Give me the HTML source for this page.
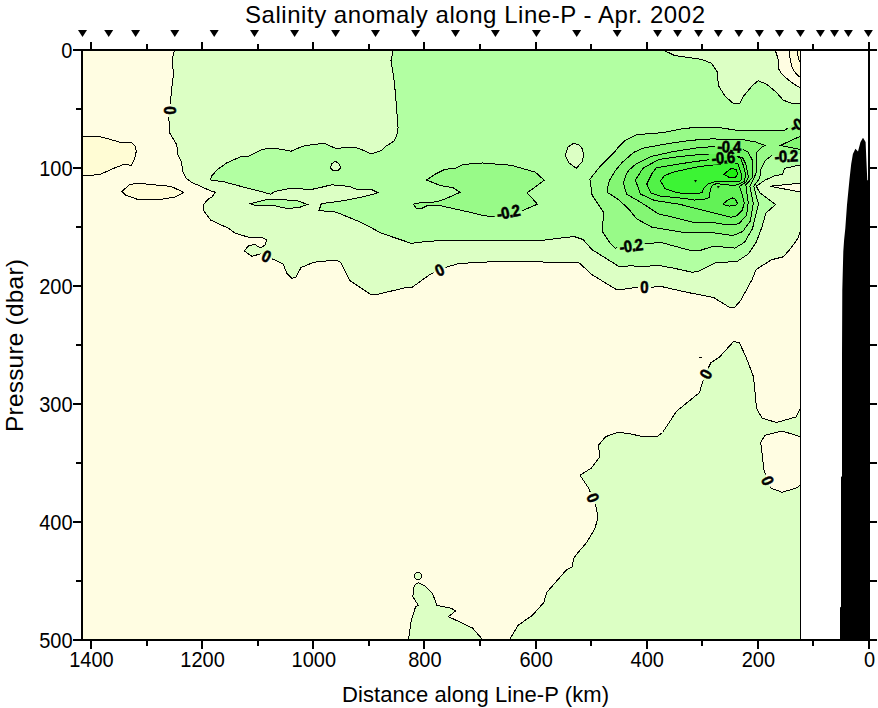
<!DOCTYPE html><html><head><meta charset="utf-8"><style>html,body{margin:0;padding:0;background:#fff;width:878px;height:708px;overflow:hidden}</style></head><body><svg width="878" height="708" viewBox="0 0 878 708" style="display:block;font-family:'Liberation Sans',sans-serif"><rect x="0" y="0" width="878" height="708" fill="#fff"/>
<rect x="82" y="50" width="719" height="589" fill="#FFFDE2"/>
<path d="M82.0 136.2 L97.4 136.2 L103.0 137.4 L111.7 139.8 L120.4 142.5 L131.5 142.5 L135.4 146.1 L136.2 151.6 L134.6 158.8 L131.5 165.5 L124.3 164.3 L115.6 167.5 L99.8 174.6 L88.7 175.4 L82.0 176.0 Z" fill="#FFFCD4" shape-rendering="crispEdges"/>
<path d="M122.1 191.6 L129.0 184.8 L137.0 183.2 L171.1 186.4 L183.6 192.3 L175.7 196.9 L162.0 199.2 L137.0 199.2 L125.6 195.1 Z" fill="#FFFCD4" shape-rendering="crispEdges"/>
<path d="M174.5 50.0 L172.3 58.3 L173.4 75.3 L171.1 93.6 L170.7 105.0 L170.0 110.6 L168.8 118.6 L170.0 133.4 L176.8 144.8 L178.0 155.0 L181.4 161.9 L183.0 172.0 L186.0 178.0 L191.6 182.4 L200.0 186.0 L210.5 190.8 L215.3 192.2 L211.9 197.0 L207.6 199.6 L203.7 204.5 L203.7 210.6 L210.5 220.0 L228.1 228.1 L235.0 233.0 L248.6 237.3 L261.3 237.3 L266.4 239.8 L265.5 244.9 L260.4 247.9 L254.5 244.3 L248.6 245.8 L244.3 250.8 L251.9 256.4 L260.4 253.8 L266.0 256.5 L272.3 258.9 L283.3 264.0 L286.7 273.3 L291.8 278.4 L296.0 277.1 L301.1 267.4 L305.0 266.1 L313.3 262.3 L336.1 260.0 L340.6 262.3 L349.7 280.5 L370.2 294.1 L375.9 294.8 L406.7 287.3 L411.2 288.0 L429.5 274.8 L438.6 270.2 L447.7 266.8 L459.1 263.4 L470.0 262.9 L494.2 261.6 L578.5 262.3 L592.1 274.8 L617.2 290.0 L637.7 287.3 L651.3 287.3 L660.0 286.2 L688.4 292.6 L713.6 297.5 L729.1 307.1 L734.9 307.1 L740.7 300.4 L752.3 279.1 L756.2 269.4 L771.7 259.7 L783.3 256.8 L791.0 248.1 L797.8 238.4 L800.5 230.7 L800.5 87.5 L799.5 87.5 L793.9 84.0 L789.0 80.5 L781.2 73.4 L778.4 68.5 L778.7 60.7 L775.2 50.0 Z" fill="#DCFFC4" shape-rendering="crispEdges"/>
<path d="M789.0 50.0 L790.4 60.7 L792.5 68.5 L795.3 72.7 L798.5 76.2 L800.5 76.6 L800.5 50.0 Z" fill="#FFFCD4" shape-rendering="crispEdges"/>
<path d="M796.7 50.0 L798.8 59.3 L800.5 62.8 L800.5 50.0 Z" fill="#FFFAC4" shape-rendering="crispEdges"/>
<path d="M770.1 186.2 L800.5 183.2 L800.5 192.1 Z" fill="#FFFDE2" shape-rendering="crispEdges"/>
<path d="M800.5 408.3 L796.3 416.8 L776.4 422.5 L762.2 418.2 L756.5 408.3 L753.6 377.0 L746.0 357.0 L739.4 342.8 L733.7 341.4 L719.5 357.0 L710.9 362.7 L705.2 374.1 L702.4 382.6 L699.5 392.6 L676.7 411.1 L662.5 432.5 L656.8 436.7 L642.6 436.7 L628.3 433.3 L617.0 432.5 L605.6 436.7 L598.4 445.3 L599.9 456.7 L591.3 468.1 L580.0 475.2 L588.5 488.0 L592.7 498.0 L595.6 505.1 L597.9 517.1 L595.0 528.5 L586.5 542.7 L577.9 552.7 L573.7 558.4 L572.2 566.9 L566.5 569.8 L546.6 592.5 L543.8 602.5 L532.4 615.3 L518.1 625.3 L509.6 639.5 L800.5 639.5 Z" fill="#DCFFC4" shape-rendering="crispEdges"/>
<path d="M800.5 436.7 L782.1 431.0 L765.0 435.3 L760.7 442.4 L764.0 470.0 L767.3 480.9 L770.7 488.0 L782.1 492.3 L796.3 488.0 L800.5 485.1 Z" fill="#FFFDE2" shape-rendering="crispEdges"/>
<path d="M408.5 639.5 L411.4 619.6 L415.6 606.8 L418.5 605.4 L412.8 596.8 L414.2 585.4 L418.5 582.6 L424.2 585.4 L432.7 594.0 L437.0 605.4 L451.2 608.2 L455.5 611.0 L448.4 616.7 L464.0 623.9 L472.6 628.1 L482.5 639.5 Z" fill="#DCFFC4" shape-rendering="crispEdges"/>
<path d="M421.8 576.0 L421.5 577.5 L420.7 578.7 L419.5 579.5 L418.0 579.8 L416.5 579.5 L415.3 578.7 L414.5 577.5 L414.2 576.0 L414.5 574.5 L415.3 573.3 L416.5 572.5 L418.0 572.2 L419.5 572.5 L420.7 573.3 L421.5 574.5 Z" fill="#DCFFC4" shape-rendering="crispEdges"/>
<path d="M393.3 50.0 L391.0 60.5 L394.4 82.2 L396.7 109.5 L398.1 127.7 L396.7 135.7 L393.9 141.2 L386.1 146.1 L381.9 150.4 L371.3 153.9 L360.0 148.9 L355.7 147.5 L335.2 148.2 L323.8 143.2 L310.0 145.0 L302.1 146.4 L291.1 151.2 L280.2 149.1 L267.9 148.0 L259.7 150.5 L248.8 156.0 L240.6 156.7 L226.9 162.8 L217.3 169.6 L211.9 175.8 L210.2 179.9 L224.2 181.9 L244.7 187.4 L261.1 191.5 L270.6 194.2 L274.7 191.5 L291.1 188.1 L310.0 189.5 L315.6 188.7 L331.5 184.8 L349.7 186.4 L356.6 189.4 L372.5 190.0 L378.2 192.8 L365.7 196.2 L349.7 199.6 L338.3 201.4 L321.3 203.7 L319.0 210.5 L336.1 212.1 L361.1 222.4 L381.6 233.3 L411.2 243.3 L429.5 241.1 L470.0 240.2 L539.7 240.6 L573.9 236.5 L583.0 239.5 L592.1 249.7 L619.5 266.8 L630.8 265.7 L640.0 266.5 L659.4 265.5 L674.8 268.4 L692.3 272.3 L698.1 271.3 L715.5 262.6 L736.8 261.6 L748.4 253.9 L756.2 242.3 L762.0 226.8 L765.8 213.2 L775.5 204.5 L759.7 192.6 L756.3 186.2 L764.7 180.3 L774.5 175.8 L782.5 174.3 L784.4 168.4 L800.5 164.9 L800.5 104.0 L791.0 103.1 L783.3 100.2 L775.5 91.5 L770.6 87.5 L765.8 83.7 L758.1 80.8 L752.3 85.7 L742.6 97.3 L739.7 104.0 L732.9 103.1 L725.2 96.3 L718.4 85.7 L717.4 72.1 L711.6 63.4 L702.0 59.5 L674.8 55.6 L663.2 50.0 Z" fill="#B2FFA2" shape-rendering="crispEdges"/>
<path d="M250.1 203.8 L266.5 199.7 L278.8 199.7 L296.6 200.4 L307.5 204.5 L298.0 207.9 L285.7 208.2 L272.0 205.2 L254.2 205.2 Z" fill="#B2FFA2" shape-rendering="crispEdges"/>
<path d="M335.2 161.2 L338.5 163.5 L340.9 167.6 L338.0 170.4 L333.0 170.6 L330.2 167.6 L332.0 163.5 Z" fill="#DCFFC4" shape-rendering="crispEdges"/>
<path d="M573.9 143.2 L579.0 145.0 L582.5 149.0 L583.7 155.0 L582.0 162.0 L576.2 168.3 L569.0 163.0 L565.2 155.0 L568.0 147.0 Z" fill="#DCFFC4" shape-rendering="crispEdges"/>
<path d="M480.0 163.1 L463.1 164.5 L456.0 168.0 L444.7 169.4 L434.8 174.4 L426.4 180.0 L440.5 185.6 L453.2 187.8 L460.2 192.3 L444.7 199.1 L436.2 201.9 L420.7 202.6 L413.6 204.0 L416.5 208.9 L420.7 208.9 L427.8 205.4 L439.1 205.4 L461.7 210.4 L480.0 214.6 L482.8 215.6 L494.2 216.7 L507.0 216.0 L522.6 210.5 L537.4 204.2 L527.2 192.8 L544.3 180.3 L535.2 172.1 L511.3 165.3 L482.8 163.0 Z" fill="#98FA88" shape-rendering="crispEdges"/>
<path d="M589.9 179.2 L601.2 165.1 L614.6 152.1 L617.4 148.1 L625.2 140.4 L636.5 134.7 L663.3 132.6 L684.5 128.4 L700.0 127.2 L719.6 127.6 L738.0 130.5 L784.6 130.5 L787.4 128.4 L792.0 125.0 L800.5 121.0 L800.5 153.5 L785.0 155.5 L771.2 156.0 L765.6 160.2 L763.5 164.4 L760.7 169.9 L759.7 178.3 L756.0 183.0 L753.8 186.2 L756.0 195.0 L758.5 204.0 L756.2 213.2 L752.5 228.7 L744.5 242.3 L734.9 248.1 L713.6 246.1 L701.5 250.0 L688.8 250.0 L660.8 242.4 L645.6 243.7 L630.0 246.0 L615.1 248.1 L610.0 243.1 L602.4 231.5 L603.5 212.1 L592.1 195.1 Z" fill="#98FA88" shape-rendering="crispEdges"/>
<path d="M607.5 192.6 L608.2 183.4 L610.0 179.5 L615.3 170.7 L622.4 162.2 L633.6 152.4 L643.5 148.1 L670.4 143.2 L690.0 140.4 L711.2 138.9 L742.2 139.6 L755.4 141.9 L764.9 145.4 L762.1 146.8 L757.1 151.7 L756.4 154.5 L756.3 172.4 L754.0 178.0 L749.8 186.2 L753.3 203.5 L750.4 221.0 L742.6 231.6 L732.9 235.5 L710.0 232.3 L686.2 232.9 L651.9 227.2 L636.7 218.9 L629.0 209.4 L618.9 199.9 L610.0 194.1 Z" fill="#84F674" shape-rendering="crispEdges"/>
<path d="M780.4 145.4 L800.5 136.2 L800.5 149.6 Z" fill="#84F674" shape-rendering="crispEdges"/>
<path d="M623.3 182.7 L626.6 173.5 L629.0 170.0 L636.5 163.6 L650.6 156.6 L673.2 151.6 L700.0 147.4 L718.0 146.5 L740.0 148.0 L748.0 152.0 L752.3 160.0 L752.3 177.8 L745.9 184.7 L747.0 194.0 L748.3 202.5 L746.5 215.2 L738.7 223.9 L727.1 224.8 L710.0 222.1 L692.6 222.1 L679.9 218.9 L658.3 213.8 L641.8 203.0 L626.5 194.1 Z" fill="#70F464" shape-rendering="crispEdges"/>
<path d="M635.4 180.2 L641.8 170.0 L643.5 167.9 L659.0 159.4 L680.0 156.5 L700.0 154.5 L720.0 154.0 L737.6 156.3 L742.7 158.0 L745.7 163.9 L747.5 172.0 L748.5 177.0 L746.0 182.0 L739.4 186.3 L742.2 194.8 L744.3 203.2 L742.2 210.3 L736.6 215.9 L730.9 217.3 L719.6 214.5 L700.6 209.6 L690.0 207.1 L679.9 204.3 L654.5 200.5 L640.5 194.1 Z" fill="#62F256" shape-rendering="crispEdges"/>
<path d="M646.8 184.0 L651.9 173.8 L656.2 167.9 L676.0 164.4 L695.0 161.6 L711.0 159.5 L733.7 155.2 L740.7 157.8 L743.3 165.4 L745.8 175.0 L744.3 181.4 L740.1 183.5 L735.9 185.2 L725.3 184.9 L716.8 183.5 L712.6 185.2 L710.5 189.1 L709.1 197.6 L705.5 199.0 L694.2 200.1 L686.2 198.6 L659.6 196.0 L650.7 192.9 Z" fill="#52F248" shape-rendering="crispEdges"/>
<path d="M723.2 203.9 L727.4 200.4 L732.3 197.9 L735.2 199.0 L737.6 203.6 L735.9 205.3 L729.5 206.1 L725.3 205.0 Z" fill="#52F248" shape-rendering="crispEdges"/>
<path d="M660.5 181.0 L664.0 176.0 L672.0 172.5 L687.0 169.0 L700.0 166.5 L720.4 164.1 L733.1 162.2 L738.2 164.1 L740.1 170.5 L741.9 175.0 L741.5 179.2 L739.4 181.4 L724.6 181.7 L715.4 181.4 L708.3 183.8 L704.1 187.7 L702.0 192.6 L697.8 193.7 L687.0 194.0 L676.0 192.5 L665.0 188.5 Z" fill="#3CF434" shape-rendering="crispEdges"/>
<path d="M723.7 174.3 L731.0 168.6 L736.1 169.2 L737.8 174.3 L735.5 177.1 L728.8 177.1 Z" fill="#1EF012" shape-rendering="crispEdges"/>
<path d="M694 180 L697 180 L695.5 182.5 Z" fill="#000"/>
<path d="M717 186 L720 186 L718 188.5 Z" fill="#000"/>
<rect x="699" y="357" width="3" height="1" fill="#000"/>
<defs><mask id="lm" maskUnits="userSpaceOnUse" x="0" y="0" width="878" height="708"><rect x="0" y="0" width="878" height="708" fill="#fff"/><rect x="-6.5" y="-6" width="13" height="12" fill="#000" transform="translate(169.5 110.5) rotate(90)"/><rect x="-6.5" y="-6" width="13" height="12" fill="#000" transform="translate(266.3 256.4) rotate(25)"/><rect x="-6.5" y="-6" width="13" height="12" fill="#000" transform="translate(439.6 270.2) rotate(-25)"/><rect x="-6.5" y="-6" width="13" height="12" fill="#000" transform="translate(644.5 287.5) rotate(0)"/><rect x="-6.5" y="-6" width="13" height="12" fill="#000" transform="translate(706 374.3) rotate(-62)"/><rect x="-6.5" y="-6" width="13" height="12" fill="#000" transform="translate(592.7 498) rotate(67)"/><rect x="-6.5" y="-6" width="13" height="12" fill="#000" transform="translate(767.3 480.9) rotate(68)"/><rect x="-14.0" y="-6" width="28" height="12" fill="#000" transform="translate(508.2 212.4) rotate(-11)"/><rect x="-14.0" y="-6" width="28" height="12" fill="#000" transform="translate(631 246) rotate(-8)"/><rect x="-14.0" y="-6" width="28" height="12" fill="#000" transform="translate(786 156.5) rotate(-2)"/><rect x="-14.0" y="-6" width="28" height="12" fill="#000" transform="translate(729 146.9) rotate(2)"/><rect x="-14.0" y="-6" width="28" height="12" fill="#000" transform="translate(723 158) rotate(-4)"/><rect x="-14.0" y="-6" width="28" height="12" fill="#000" transform="translate(801 123) rotate(-28)"/></mask></defs>
<g mask="url(#lm)" fill="none" stroke="#000" stroke-width="1" shape-rendering="crispEdges"><path d="M82.0 136.2 L97.4 136.2 L103.0 137.4 L111.7 139.8 L120.4 142.5 L131.5 142.5 L135.4 146.1 L136.2 151.6 L134.6 158.8 L131.5 165.5 L124.3 164.3 L115.6 167.5 L99.8 174.6 L88.7 175.4 L82.0 176.0 Z"/><path d="M122.1 191.6 L129.0 184.8 L137.0 183.2 L171.1 186.4 L183.6 192.3 L175.7 196.9 L162.0 199.2 L137.0 199.2 L125.6 195.1 Z"/><path d="M174.5 50.0 L172.3 58.3 L173.4 75.3 L171.1 93.6 L170.7 105.0 L170.0 110.6 L168.8 118.6 L170.0 133.4 L176.8 144.8 L178.0 155.0 L181.4 161.9 L183.0 172.0 L186.0 178.0 L191.6 182.4 L200.0 186.0 L210.5 190.8 L215.3 192.2 L211.9 197.0 L207.6 199.6 L203.7 204.5 L203.7 210.6 L210.5 220.0 L228.1 228.1 L235.0 233.0 L248.6 237.3 L261.3 237.3 L266.4 239.8 L265.5 244.9 L260.4 247.9 L254.5 244.3 L248.6 245.8 L244.3 250.8 L251.9 256.4 L260.4 253.8 L266.0 256.5 L272.3 258.9 L283.3 264.0 L286.7 273.3 L291.8 278.4 L296.0 277.1 L301.1 267.4 L305.0 266.1 L313.3 262.3 L336.1 260.0 L340.6 262.3 L349.7 280.5 L370.2 294.1 L375.9 294.8 L406.7 287.3 L411.2 288.0 L429.5 274.8 L438.6 270.2 L447.7 266.8 L459.1 263.4 L470.0 262.9 L494.2 261.6 L578.5 262.3 L592.1 274.8 L617.2 290.0 L637.7 287.3 L651.3 287.3 L660.0 286.2 L688.4 292.6 L713.6 297.5 L729.1 307.1 L734.9 307.1 L740.7 300.4 L752.3 279.1 L756.2 269.4 L771.7 259.7 L783.3 256.8 L791.0 248.1 L797.8 238.4 L800.5 230.7 L800.5 87.5 L799.5 87.5 L793.9 84.0 L789.0 80.5 L781.2 73.4 L778.4 68.5 L778.7 60.7 L775.2 50.0 Z"/><path d="M789.0 50.0 L790.4 60.7 L792.5 68.5 L795.3 72.7 L798.5 76.2 L800.5 76.6 L800.5 50.0 Z"/><path d="M796.7 50.0 L798.8 59.3 L800.5 62.8 L800.5 50.0 Z"/><path d="M770.1 186.2 L800.5 183.2 L800.5 192.1 Z"/><path d="M800.5 408.3 L796.3 416.8 L776.4 422.5 L762.2 418.2 L756.5 408.3 L753.6 377.0 L746.0 357.0 L739.4 342.8 L733.7 341.4 L719.5 357.0 L710.9 362.7 L705.2 374.1 L702.4 382.6 L699.5 392.6 L676.7 411.1 L662.5 432.5 L656.8 436.7 L642.6 436.7 L628.3 433.3 L617.0 432.5 L605.6 436.7 L598.4 445.3 L599.9 456.7 L591.3 468.1 L580.0 475.2 L588.5 488.0 L592.7 498.0 L595.6 505.1 L597.9 517.1 L595.0 528.5 L586.5 542.7 L577.9 552.7 L573.7 558.4 L572.2 566.9 L566.5 569.8 L546.6 592.5 L543.8 602.5 L532.4 615.3 L518.1 625.3 L509.6 639.5 L800.5 639.5 Z"/><path d="M800.5 436.7 L782.1 431.0 L765.0 435.3 L760.7 442.4 L764.0 470.0 L767.3 480.9 L770.7 488.0 L782.1 492.3 L796.3 488.0 L800.5 485.1 Z"/><path d="M408.5 639.5 L411.4 619.6 L415.6 606.8 L418.5 605.4 L412.8 596.8 L414.2 585.4 L418.5 582.6 L424.2 585.4 L432.7 594.0 L437.0 605.4 L451.2 608.2 L455.5 611.0 L448.4 616.7 L464.0 623.9 L472.6 628.1 L482.5 639.5 Z"/><path d="M421.8 576.0 L421.5 577.5 L420.7 578.7 L419.5 579.5 L418.0 579.8 L416.5 579.5 L415.3 578.7 L414.5 577.5 L414.2 576.0 L414.5 574.5 L415.3 573.3 L416.5 572.5 L418.0 572.2 L419.5 572.5 L420.7 573.3 L421.5 574.5 Z"/><path d="M393.3 50.0 L391.0 60.5 L394.4 82.2 L396.7 109.5 L398.1 127.7 L396.7 135.7 L393.9 141.2 L386.1 146.1 L381.9 150.4 L371.3 153.9 L360.0 148.9 L355.7 147.5 L335.2 148.2 L323.8 143.2 L310.0 145.0 L302.1 146.4 L291.1 151.2 L280.2 149.1 L267.9 148.0 L259.7 150.5 L248.8 156.0 L240.6 156.7 L226.9 162.8 L217.3 169.6 L211.9 175.8 L210.2 179.9 L224.2 181.9 L244.7 187.4 L261.1 191.5 L270.6 194.2 L274.7 191.5 L291.1 188.1 L310.0 189.5 L315.6 188.7 L331.5 184.8 L349.7 186.4 L356.6 189.4 L372.5 190.0 L378.2 192.8 L365.7 196.2 L349.7 199.6 L338.3 201.4 L321.3 203.7 L319.0 210.5 L336.1 212.1 L361.1 222.4 L381.6 233.3 L411.2 243.3 L429.5 241.1 L470.0 240.2 L539.7 240.6 L573.9 236.5 L583.0 239.5 L592.1 249.7 L619.5 266.8 L630.8 265.7 L640.0 266.5 L659.4 265.5 L674.8 268.4 L692.3 272.3 L698.1 271.3 L715.5 262.6 L736.8 261.6 L748.4 253.9 L756.2 242.3 L762.0 226.8 L765.8 213.2 L775.5 204.5 L759.7 192.6 L756.3 186.2 L764.7 180.3 L774.5 175.8 L782.5 174.3 L784.4 168.4 L800.5 164.9 L800.5 104.0 L791.0 103.1 L783.3 100.2 L775.5 91.5 L770.6 87.5 L765.8 83.7 L758.1 80.8 L752.3 85.7 L742.6 97.3 L739.7 104.0 L732.9 103.1 L725.2 96.3 L718.4 85.7 L717.4 72.1 L711.6 63.4 L702.0 59.5 L674.8 55.6 L663.2 50.0 Z"/><path d="M250.1 203.8 L266.5 199.7 L278.8 199.7 L296.6 200.4 L307.5 204.5 L298.0 207.9 L285.7 208.2 L272.0 205.2 L254.2 205.2 Z"/><path d="M335.2 161.2 L338.5 163.5 L340.9 167.6 L338.0 170.4 L333.0 170.6 L330.2 167.6 L332.0 163.5 Z"/><path d="M573.9 143.2 L579.0 145.0 L582.5 149.0 L583.7 155.0 L582.0 162.0 L576.2 168.3 L569.0 163.0 L565.2 155.0 L568.0 147.0 Z"/><path d="M480.0 163.1 L463.1 164.5 L456.0 168.0 L444.7 169.4 L434.8 174.4 L426.4 180.0 L440.5 185.6 L453.2 187.8 L460.2 192.3 L444.7 199.1 L436.2 201.9 L420.7 202.6 L413.6 204.0 L416.5 208.9 L420.7 208.9 L427.8 205.4 L439.1 205.4 L461.7 210.4 L480.0 214.6 L482.8 215.6 L494.2 216.7 L507.0 216.0 L522.6 210.5 L537.4 204.2 L527.2 192.8 L544.3 180.3 L535.2 172.1 L511.3 165.3 L482.8 163.0 Z"/><path d="M589.9 179.2 L601.2 165.1 L614.6 152.1 L617.4 148.1 L625.2 140.4 L636.5 134.7 L663.3 132.6 L684.5 128.4 L700.0 127.2 L719.6 127.6 L738.0 130.5 L784.6 130.5 L787.4 128.4 L792.0 125.0 L800.5 121.0 L800.5 153.5 L785.0 155.5 L771.2 156.0 L765.6 160.2 L763.5 164.4 L760.7 169.9 L759.7 178.3 L756.0 183.0 L753.8 186.2 L756.0 195.0 L758.5 204.0 L756.2 213.2 L752.5 228.7 L744.5 242.3 L734.9 248.1 L713.6 246.1 L701.5 250.0 L688.8 250.0 L660.8 242.4 L645.6 243.7 L630.0 246.0 L615.1 248.1 L610.0 243.1 L602.4 231.5 L603.5 212.1 L592.1 195.1 Z"/><path d="M607.5 192.6 L608.2 183.4 L610.0 179.5 L615.3 170.7 L622.4 162.2 L633.6 152.4 L643.5 148.1 L670.4 143.2 L690.0 140.4 L711.2 138.9 L742.2 139.6 L755.4 141.9 L764.9 145.4 L762.1 146.8 L757.1 151.7 L756.4 154.5 L756.3 172.4 L754.0 178.0 L749.8 186.2 L753.3 203.5 L750.4 221.0 L742.6 231.6 L732.9 235.5 L710.0 232.3 L686.2 232.9 L651.9 227.2 L636.7 218.9 L629.0 209.4 L618.9 199.9 L610.0 194.1 Z"/><path d="M780.4 145.4 L800.5 136.2 L800.5 149.6 Z"/><path d="M623.3 182.7 L626.6 173.5 L629.0 170.0 L636.5 163.6 L650.6 156.6 L673.2 151.6 L700.0 147.4 L718.0 146.5 L740.0 148.0 L748.0 152.0 L752.3 160.0 L752.3 177.8 L745.9 184.7 L747.0 194.0 L748.3 202.5 L746.5 215.2 L738.7 223.9 L727.1 224.8 L710.0 222.1 L692.6 222.1 L679.9 218.9 L658.3 213.8 L641.8 203.0 L626.5 194.1 Z"/><path d="M635.4 180.2 L641.8 170.0 L643.5 167.9 L659.0 159.4 L680.0 156.5 L700.0 154.5 L720.0 154.0 L737.6 156.3 L742.7 158.0 L745.7 163.9 L747.5 172.0 L748.5 177.0 L746.0 182.0 L739.4 186.3 L742.2 194.8 L744.3 203.2 L742.2 210.3 L736.6 215.9 L730.9 217.3 L719.6 214.5 L700.6 209.6 L690.0 207.1 L679.9 204.3 L654.5 200.5 L640.5 194.1 Z"/><path d="M646.8 184.0 L651.9 173.8 L656.2 167.9 L676.0 164.4 L695.0 161.6 L711.0 159.5 L733.7 155.2 L740.7 157.8 L743.3 165.4 L745.8 175.0 L744.3 181.4 L740.1 183.5 L735.9 185.2 L725.3 184.9 L716.8 183.5 L712.6 185.2 L710.5 189.1 L709.1 197.6 L705.5 199.0 L694.2 200.1 L686.2 198.6 L659.6 196.0 L650.7 192.9 Z"/><path d="M723.2 203.9 L727.4 200.4 L732.3 197.9 L735.2 199.0 L737.6 203.6 L735.9 205.3 L729.5 206.1 L725.3 205.0 Z"/><path d="M660.5 181.0 L664.0 176.0 L672.0 172.5 L687.0 169.0 L700.0 166.5 L720.4 164.1 L733.1 162.2 L738.2 164.1 L740.1 170.5 L741.9 175.0 L741.5 179.2 L739.4 181.4 L724.6 181.7 L715.4 181.4 L708.3 183.8 L704.1 187.7 L702.0 192.6 L697.8 193.7 L687.0 194.0 L676.0 192.5 L665.0 188.5 Z"/><path d="M723.7 174.3 L731.0 168.6 L736.1 169.2 L737.8 174.3 L735.5 177.1 L728.8 177.1 Z"/></g>
<text transform="translate(169.5 110.5) rotate(90) scale(1 1.1)" text-anchor="middle" y="5" font-size="15" font-weight="bold" stroke="#000" stroke-width="0.5">0</text>
<text transform="translate(266.3 256.4) rotate(25) scale(1 1.1)" text-anchor="middle" y="5" font-size="15" font-weight="bold" stroke="#000" stroke-width="0.5">0</text>
<text transform="translate(439.6 270.2) rotate(-25) scale(1 1.1)" text-anchor="middle" y="5" font-size="15" font-weight="bold" stroke="#000" stroke-width="0.5">0</text>
<text transform="translate(644.5 287.5) rotate(0) scale(1 1.1)" text-anchor="middle" y="5" font-size="15" font-weight="bold" stroke="#000" stroke-width="0.5">0</text>
<text transform="translate(706 374.3) rotate(-62) scale(1 1.1)" text-anchor="middle" y="5" font-size="15" font-weight="bold" stroke="#000" stroke-width="0.5">0</text>
<text transform="translate(592.7 498) rotate(67) scale(1 1.1)" text-anchor="middle" y="5" font-size="15" font-weight="bold" stroke="#000" stroke-width="0.5">0</text>
<text transform="translate(767.3 480.9) rotate(68) scale(1 1.1)" text-anchor="middle" y="5" font-size="15" font-weight="bold" stroke="#000" stroke-width="0.5">0</text>
<text transform="translate(508.2 212.4) rotate(-11) scale(1 1.1)" text-anchor="middle" y="5" font-size="15" font-weight="bold" stroke="#000" stroke-width="0.5" letter-spacing="-0.7">-0.2</text>
<text transform="translate(631 246) rotate(-8) scale(1 1.1)" text-anchor="middle" y="5" font-size="15" font-weight="bold" stroke="#000" stroke-width="0.5" letter-spacing="-0.7">-0.2</text>
<text transform="translate(786 156.5) rotate(-2) scale(1 1.1)" text-anchor="middle" y="5" font-size="15" font-weight="bold" stroke="#000" stroke-width="0.5" letter-spacing="-0.7">-0.2</text>
<text transform="translate(729 146.9) rotate(2) scale(1 1.1)" text-anchor="middle" y="5" font-size="15" font-weight="bold" stroke="#000" stroke-width="0.5" letter-spacing="-0.7">-0.4</text>
<text transform="translate(723 158) rotate(-4) scale(1 1.1)" text-anchor="middle" y="5" font-size="15" font-weight="bold" stroke="#000" stroke-width="0.5" letter-spacing="-0.7">-0.6</text>
<text transform="translate(801 123) rotate(-28) scale(1 1.1)" text-anchor="middle" y="5" font-size="15" font-weight="bold" stroke="#000" stroke-width="0.5" letter-spacing="-0.7">-0.2</text>
<rect x="801" y="50" width="67" height="589" fill="#fff"/>
<rect x="800" y="50" width="1" height="589" fill="#000"/>
<path d="M863.0 137.8 L860.5 142.0 L858.0 151.4 L855.4 148.8 L852.9 153.9 L851.2 164.0 L849.5 179.3 L847.0 204.7 L845.3 228.5 L844.1 240.0 L843.3 251.7 L842.3 290.5 L842.0 354.0 L842.0 476.0 L841.0 477.2 L841.0 606.8 L840.0 607.5 L840.0 639.0 L869.0 639.0 L869.0 180.2 L867.3 180.2 L866.4 160.7 L865.6 142.0 Z" fill="#000"/>
<rect x="73" y="49" width="804" height="2" fill="#000"/>
<rect x="73" y="639" width="804" height="2" fill="#000"/>
<rect x="81" y="49" width="2" height="592" fill="#000"/>
<rect x="868" y="42" width="2" height="607" fill="#000"/>
<rect x="90" y="42" width="2" height="7" fill="#000"/>
<rect x="90" y="641" width="2" height="8" fill="#000"/>
<rect x="146" y="44" width="2" height="5" fill="#000"/>
<rect x="146" y="641" width="2" height="5" fill="#000"/>
<rect x="201" y="42" width="2" height="7" fill="#000"/>
<rect x="201" y="641" width="2" height="8" fill="#000"/>
<rect x="257" y="44" width="2" height="5" fill="#000"/>
<rect x="257" y="641" width="2" height="5" fill="#000"/>
<rect x="312" y="42" width="2" height="7" fill="#000"/>
<rect x="312" y="641" width="2" height="8" fill="#000"/>
<rect x="368" y="44" width="2" height="5" fill="#000"/>
<rect x="368" y="641" width="2" height="5" fill="#000"/>
<rect x="423" y="42" width="2" height="7" fill="#000"/>
<rect x="423" y="641" width="2" height="8" fill="#000"/>
<rect x="479" y="44" width="2" height="5" fill="#000"/>
<rect x="479" y="641" width="2" height="5" fill="#000"/>
<rect x="535" y="42" width="2" height="7" fill="#000"/>
<rect x="535" y="641" width="2" height="8" fill="#000"/>
<rect x="590" y="44" width="2" height="5" fill="#000"/>
<rect x="590" y="641" width="2" height="5" fill="#000"/>
<rect x="646" y="42" width="2" height="7" fill="#000"/>
<rect x="646" y="641" width="2" height="8" fill="#000"/>
<rect x="701" y="44" width="2" height="5" fill="#000"/>
<rect x="701" y="641" width="2" height="5" fill="#000"/>
<rect x="757" y="42" width="2" height="7" fill="#000"/>
<rect x="757" y="641" width="2" height="8" fill="#000"/>
<rect x="812" y="44" width="2" height="5" fill="#000"/>
<rect x="812" y="641" width="2" height="5" fill="#000"/>
<rect x="868" y="42" width="2" height="7" fill="#000"/>
<rect x="868" y="641" width="2" height="8" fill="#000"/>
<rect x="73" y="49" width="8" height="2" fill="#000"/>
<rect x="870" y="49" width="7" height="2" fill="#000"/>
<rect x="76" y="108" width="5" height="2" fill="#000"/>
<rect x="870" y="108" width="7" height="2" fill="#000"/>
<rect x="73" y="167" width="8" height="2" fill="#000"/>
<rect x="870" y="167" width="7" height="2" fill="#000"/>
<rect x="76" y="226" width="5" height="2" fill="#000"/>
<rect x="870" y="226" width="7" height="2" fill="#000"/>
<rect x="73" y="285" width="8" height="2" fill="#000"/>
<rect x="870" y="285" width="7" height="2" fill="#000"/>
<rect x="76" y="344" width="5" height="2" fill="#000"/>
<rect x="870" y="344" width="7" height="2" fill="#000"/>
<rect x="73" y="403" width="8" height="2" fill="#000"/>
<rect x="870" y="403" width="7" height="2" fill="#000"/>
<rect x="76" y="462" width="5" height="2" fill="#000"/>
<rect x="870" y="462" width="7" height="2" fill="#000"/>
<rect x="73" y="521" width="8" height="2" fill="#000"/>
<rect x="870" y="521" width="7" height="2" fill="#000"/>
<rect x="76" y="580" width="5" height="2" fill="#000"/>
<rect x="870" y="580" width="7" height="2" fill="#000"/>
<rect x="73" y="639" width="8" height="2" fill="#000"/>
<rect x="870" y="639" width="7" height="2" fill="#000"/>
<path d="M78.0 30 L87.0 30 L82.5 37 Z" fill="#000"/>
<path d="M104.2 30 L113.2 30 L108.7 37 Z" fill="#000"/>
<path d="M131.1 30 L140.1 30 L135.6 37 Z" fill="#000"/>
<path d="M170.3 30 L179.3 30 L174.8 37 Z" fill="#000"/>
<path d="M209.7 30 L218.7 30 L214.2 37 Z" fill="#000"/>
<path d="M250.0 30 L259.0 30 L254.5 37 Z" fill="#000"/>
<path d="M290.1 30 L299.1 30 L294.6 37 Z" fill="#000"/>
<path d="M331.1 30 L340.1 30 L335.6 37 Z" fill="#000"/>
<path d="M371.0 30 L380.0 30 L375.5 37 Z" fill="#000"/>
<path d="M411.1 30 L420.1 30 L415.6 37 Z" fill="#000"/>
<path d="M451.0 30 L460.0 30 L455.5 37 Z" fill="#000"/>
<path d="M490.9 30 L499.9 30 L495.4 37 Z" fill="#000"/>
<path d="M531.9 30 L540.9 30 L536.4 37 Z" fill="#000"/>
<path d="M572.2 30 L581.2 30 L576.7 37 Z" fill="#000"/>
<path d="M612.7 30 L621.7 30 L617.2 37 Z" fill="#000"/>
<path d="M653.1 30 L662.1 30 L657.6 37 Z" fill="#000"/>
<path d="M673.1 30 L682.1 30 L677.6 37 Z" fill="#000"/>
<path d="M694.1 30 L703.1 30 L698.6 37 Z" fill="#000"/>
<path d="M713.9 30 L722.9 30 L718.4 37 Z" fill="#000"/>
<path d="M734.4 30 L743.4 30 L738.9 37 Z" fill="#000"/>
<path d="M754.9 30 L763.9 30 L759.4 37 Z" fill="#000"/>
<path d="M775.0 30 L784.0 30 L779.5 37 Z" fill="#000"/>
<path d="M795.9 30 L804.9 30 L800.4 37 Z" fill="#000"/>
<path d="M815.9 30 L824.9 30 L820.4 37 Z" fill="#000"/>
<path d="M830.0 30 L839.0 30 L834.5 37 Z" fill="#000"/>
<path d="M843.9 30 L852.9 30 L848.4 37 Z" fill="#000"/>
<path d="M863.9 30 L872.9 30 L868.4 37 Z" fill="#000"/>
<text x="91.5" y="667" font-size="20" text-anchor="middle" transform="translate(0 -46.69) scale(1 1.07)">1400</text>
<text x="202.6" y="667" font-size="20" text-anchor="middle" transform="translate(0 -46.69) scale(1 1.07)">1200</text>
<text x="313.8" y="667" font-size="20" text-anchor="middle" transform="translate(0 -46.69) scale(1 1.07)">1000</text>
<text x="424.9" y="667" font-size="20" text-anchor="middle" transform="translate(0 -46.69) scale(1 1.07)">800</text>
<text x="536.1" y="667" font-size="20" text-anchor="middle" transform="translate(0 -46.69) scale(1 1.07)">600</text>
<text x="647.2" y="667" font-size="20" text-anchor="middle" transform="translate(0 -46.69) scale(1 1.07)">400</text>
<text x="758.4" y="667" font-size="20" text-anchor="middle" transform="translate(0 -46.69) scale(1 1.07)">200</text>
<text x="869.5" y="667" font-size="20" text-anchor="middle" transform="translate(0 -46.69) scale(1 1.07)">0</text>
<text x="72.5" y="0" font-size="20" text-anchor="end" transform="translate(0 57.60) scale(1 1.08)">0</text>
<text x="72.5" y="0" font-size="20" text-anchor="end" transform="translate(0 175.60) scale(1 1.08)">100</text>
<text x="72.5" y="0" font-size="20" text-anchor="end" transform="translate(0 293.60) scale(1 1.08)">200</text>
<text x="72.5" y="0" font-size="20" text-anchor="end" transform="translate(0 411.60) scale(1 1.08)">300</text>
<text x="72.5" y="0" font-size="20" text-anchor="end" transform="translate(0 529.60) scale(1 1.08)">400</text>
<text x="72.5" y="0" font-size="20" text-anchor="end" transform="translate(0 647.60) scale(1 1.08)">500</text>
<text x="245" y="22.5" font-size="24" textLength="460" lengthAdjust="spacing">Salinity anomaly along Line-P - Apr. 2002</text>
<text x="342" y="702" font-size="22" textLength="267" lengthAdjust="spacing">Distance along Line-P (km)</text>
<text transform="translate(23.3 432) rotate(-90)" x="0" y="0" font-size="24.5" textLength="173" lengthAdjust="spacing">Pressure (dbar)</text></svg></body></html>
